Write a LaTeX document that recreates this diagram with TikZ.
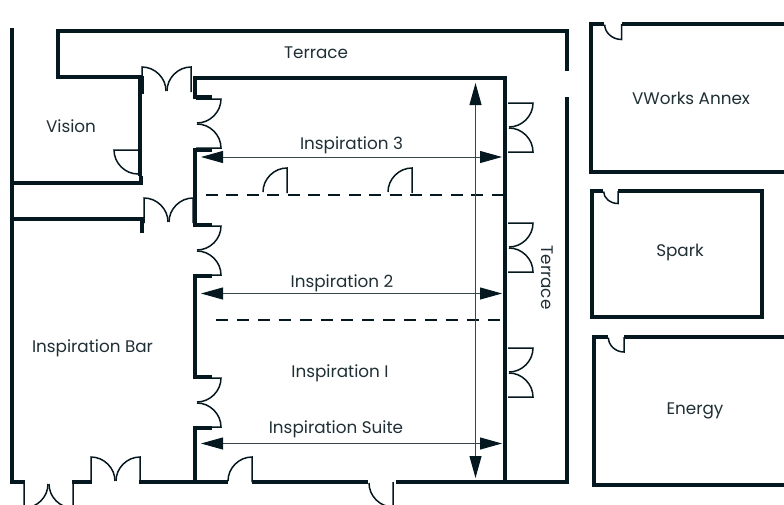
\documentclass[tikz,border=0pt]{standalone}
\usepackage{fontspec}
\setmainfont{Poppins}
\usetikzlibrary{arrows.meta}
\definecolor{ink}{HTML}{06181F}
\tikzset{
	wall/.style={line width=4pt,color=ink,line cap=butt,line join=miter},
	door/.style={line width=1.5pt,color=ink,line cap=butt},
	span/.style={line width=1pt,color=ink!80,<->},
	room/.style={font=\fontsize{16.8}{20}\selectfont,text=ink!90,inner sep=0pt},
	onedoor/.pic={\draw[door] (0,25)--(0,0) .. controls (-13,0) and (-24,11) .. (-24,24);},
	twodoor/.pic={
		\draw[door] (0,25)--(0,0) .. controls (13,0) and (24,11) .. (24,24);
		\draw[door] (49,25)--(49,0) .. controls (36,0) and (25,11) .. (25,24);}
}
\begin{document}
\begin{tikzpicture}[x=1pt,y=-1pt,>={Triangle[length=22pt,width=12pt,color=ink]}]
	\clip (0,0) rectangle (784,504);
	% outer walls
	\draw[wall] (11.5,28)--(11.5,482)--(25,482);
	\draw[wall] (72,482)--(92,482);
	\draw[wall] (139,482)--(228,482);
	\draw[wall] (251.5,482)--(368,482);
	\draw[wall] (396,482)--(567,482)--(567,97);
	\draw[wall] (567,71)--(567,31)--(58,31)--(58,76.5)--(139.5,76.5)--(139.5,176);
	\draw[wall] (12,183)--(141,183)--(141,176);
	\draw[wall] (12,219)--(142,219)--(142,233);
	\draw[wall] (141.5,76)--(141.5,94);
	% main hall
	\draw[wall] (212,97)--(195,97)--(195,78)--(505,78)--(505,482);
	\draw[wall] (212,150)--(195,150)--(195,225)--(212,225);
	\draw[wall] (212,276)--(195,276)--(195,377)--(212,377);
	\draw[wall] (212,428)--(195,428)--(195,482);
	\draw[line width=2.5pt,color=ink,dash pattern=on 12pt off 8.4pt] (206,195)--(503,195);
	\draw[line width=2.5pt,color=ink,dash pattern=on 12pt off 8.9pt] (216,320)--(500,320);
	% side rooms
	\draw[wall] (604,24)--(591,24)--(591,172)--(790,172);
	\draw[wall] (621.5,24)--(790,24);
	\draw[wall] (603,191)--(592,191)--(592,317)--(762,317)--(762,191)--(618,191);
	\draw[wall] (608,337)--(594,337)--(594,485)--(790,485);
	\draw[wall] (624,337)--(790,337);
	% doors
	\foreach \a/\b in {142/67,91/457,144/198}{
		\pic at (\a,\b) {twodoor};
	}
	\foreach \a/\b in {221/99,221/226,221/378,533/103,533/223,533/348}{
		\pic[rotate=-90] at (\a,\b) {twodoor};
	}
	\pic[rotate=180] at (73,508) {twodoor};
	\foreach \a/\b in {287/168,412/168,252/457}{
		\pic at (\a,\b) {onedoor};
	}
	\pic[rotate=90] at (114,150) {onedoor};
	\pic[yscale=-1] at (393,507) {onedoor};
	\pic[xscale=.7,yscale=-.62] at (621.5,39.5) {onedoor};
	\pic[xscale=.6,yscale=-.5] at (618,203.5) {onedoor};
	\pic[xscale=.65,yscale=-.6] at (624,352) {onedoor};
	% dimensions
	\coordinate (s3l) at (201,157);
	\coordinate (s3r) at (502,157);
	\coordinate (s2l) at (201,293.5);
	\coordinate (s2r) at (502,293.5);
	\coordinate (s1l) at (201,443.5);
	\coordinate (s1r) at (502,443.5);
	\coordinate (vt) at (475.5,83);
	\coordinate (vb) at (475.5,478);
	\draw[span] (s3l)--(s3r);
	\draw[span] (s2l)--(s2r);
	\draw[span] (s1l)--(s1r);
	\draw[span] (vt)--(vb);
	% labels
	\node[room] (terracetop) at (316,53) {Terrace};
	\node[room] (vision) at (71,126) {Vision};
	\node[room] (insp3) at (351.5,145) {Inspiration 3};
	\node[room] (insp2) at (342,283) {Inspiration 2};
	\node[room] (insp1) at (340,373) {Inspiration I};
	\node[room] (suite) at (336,429) {Inspiration Suite};
	\node[room] (bar) at (92.5,348) {Inspiration Bar};
	\node[room] (annex) at (691,98) {VWorks Annex};
	\node[room] (spark) at (680,252) {Spark};
	\node[room] (energy) at (695,411) {Energy};
	\node[room,rotate=-90] (terraceside) at (547,277.5) {Terrace};
\end{tikzpicture}
\end{document}
